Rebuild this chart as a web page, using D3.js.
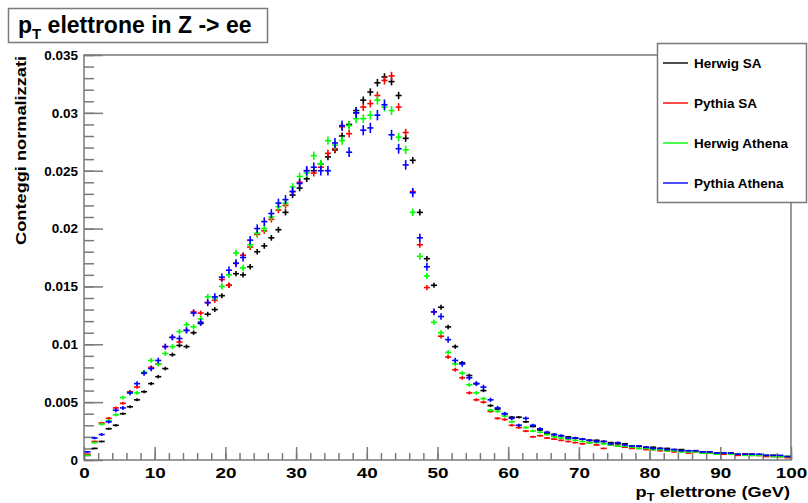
<!DOCTYPE html>
<html>
<head>
<meta charset="utf-8">
<script src="https://cdn.jsdelivr.net/npm/d3@7"></script>
<style>
  html, body { margin: 0; padding: 0; background: #fff; }
  svg { display: block; }
  text { font-family: "Liberation Sans", Arial, Helvetica, sans-serif; font-weight: bold; fill: #000; }
</style>
</head>
<body>
<svg id="chart" width="808" height="503"></svg>
<script>
// ---------------- DATA ----------------
const binCenters = d3.range(0, 100).map(i => i + 0.5);

const herwigSA = [
  0.0004, 0.0010, 0.0016, 0.0027, 0.0030, 0.0040, 0.0046, 0.0052, 0.0059, 0.0066,
  0.0072, 0.0079, 0.0091, 0.0099, 0.0098, 0.0110, 0.0118, 0.0126, 0.0130, 0.0142,
  0.0151, 0.0161, 0.0160, 0.0167, 0.0180, 0.0185, 0.0192, 0.0199, 0.0214, 0.0229,
  0.0235, 0.0243, 0.0250, 0.0256, 0.0262, 0.0268, 0.0280, 0.0290, 0.0302, 0.0311,
  0.0318, 0.0326, 0.0331, 0.0327, 0.0315, 0.0278, 0.0259, 0.0214, 0.0174, 0.0151,
  0.0132, 0.0115, 0.0098, 0.0084, 0.0073, 0.0066, 0.0060, 0.0047, 0.0044, 0.0040,
  0.0037, 0.0037, 0.0033, 0.0029, 0.0026, 0.0023, 0.0022, 0.0021, 0.0020, 0.0019,
  0.0018, 0.0017, 0.0017, 0.0016, 0.0015, 0.0014, 0.0014, 0.0012, 0.0012, 0.0011,
  0.0011, 0.0010, 0.0010, 0.0009, 0.0009, 0.0008, 0.0008, 0.0007, 0.0007, 0.0006,
  0.0006, 0.0006, 0.0005, 0.0005, 0.0005, 0.0004, 0.0004, 0.0004, 0.0003, 0.0003
];
const pythiaSA = [
  0.0005, 0.0016, 0.0032, 0.0036, 0.0045, 0.0049, 0.0059, 0.0063, 0.0075, 0.0080,
  0.0083, 0.0098, 0.0106, 0.0102, 0.0112, 0.0128, 0.0127, 0.0136, 0.0138, 0.0156,
  0.0151, 0.0170, 0.0177, 0.0184, 0.0195, 0.0198, 0.0208, 0.0216, 0.0220, 0.0232,
  0.0240, 0.0250, 0.0248, 0.0253, 0.0265, 0.0269, 0.0288, 0.0282, 0.0300, 0.0305,
  0.0308, 0.0315, 0.0328, 0.0332, 0.0305, 0.0283, 0.0232, 0.0186, 0.0149, 0.0128,
  0.0107, 0.0089, 0.0078, 0.0071, 0.0058, 0.0052, 0.0050, 0.0042, 0.0036, 0.0035,
  0.0030, 0.0028, 0.0025, 0.0020, 0.0021, 0.0019, 0.0018, 0.0017, 0.0016, 0.0015,
  0.0014, 0.0015, 0.0013, 0.0010, 0.0013, 0.0012, 0.0011, 0.0010, 0.0010, 0.0009,
  0.0009, 0.0008, 0.0008, 0.0007, 0.0008, 0.0006, 0.0007, 0.0006, 0.0006, 0.0005,
  0.0005, 0.0005, 0.0004, 0.0005, 0.0004, 0.0004, 0.0003, 0.0003, 0.0003, 0.0002
];
const herwigAthena = [
  0.0004, 0.0015, 0.0031, 0.0034, 0.0039, 0.0054, 0.0058, 0.0058, 0.0076, 0.0086,
  0.0083, 0.0092, 0.0098, 0.0111, 0.0117, 0.0115, 0.0122, 0.0141, 0.0140, 0.0150,
  0.0160, 0.0179, 0.0166, 0.0186, 0.0196, 0.0200, 0.0210, 0.0219, 0.0222, 0.0236,
  0.0245, 0.0248, 0.0263, 0.0256, 0.0276, 0.0272, 0.0276, 0.0289, 0.0295, 0.0295,
  0.0298, 0.0311, 0.0305, 0.0302, 0.0279, 0.0268, 0.0214, 0.0176, 0.0159, 0.0119,
  0.0110, 0.0093, 0.0083, 0.0075, 0.0065, 0.0058, 0.0053, 0.0043, 0.0042, 0.0038,
  0.0033, 0.0030, 0.0028, 0.0025, 0.0024, 0.0022, 0.0020, 0.0019, 0.0018, 0.0017,
  0.0016, 0.0015, 0.0015, 0.0014, 0.0013, 0.0012, 0.0012, 0.0011, 0.0010, 0.0010,
  0.0009, 0.0009, 0.0008, 0.0008, 0.0007, 0.0007, 0.0007, 0.0006, 0.0006, 0.0005,
  0.0006, 0.0005, 0.0005, 0.0004, 0.0004, 0.0004, 0.0004, 0.0003, 0.0003, 0.0003
];
const pythiaAthena = [
  0.0007, 0.0019, 0.0022, 0.0033, 0.0043, 0.0045, 0.0058, 0.0066, 0.0075, 0.0079,
  0.0086, 0.0098, 0.0106, 0.0105, 0.0112, 0.0127, 0.0119, 0.0136, 0.0141, 0.0158,
  0.0164, 0.0170, 0.0175, 0.0190, 0.0200, 0.0206, 0.0213, 0.0222, 0.0225, 0.0232,
  0.0239, 0.0250, 0.0253, 0.0250, 0.0250, 0.0274, 0.0289, 0.0266, 0.0300, 0.0285,
  0.0287, 0.0298, 0.0307, 0.0281, 0.0269, 0.0255, 0.0231, 0.0192, 0.0167, 0.0128,
  0.0124, 0.0104, 0.0086, 0.0083, 0.0071, 0.0066, 0.0063, 0.0052, 0.0045, 0.0040,
  0.0036, 0.0030, 0.0036, 0.0030, 0.0027, 0.0024, 0.0022, 0.0021, 0.0019, 0.0019,
  0.0018, 0.0017, 0.0016, 0.0016, 0.0014, 0.0015, 0.0013, 0.0012, 0.0012, 0.0011,
  0.0010, 0.0010, 0.0009, 0.0009, 0.0008, 0.0008, 0.0008, 0.0007, 0.0007, 0.0006,
  0.0006, 0.0006, 0.0005, 0.0005, 0.0005, 0.0005, 0.0004, 0.0004, 0.0004, 0.0003
];

const seriesNames = ["Herwig SA", "Pythia SA", "Herwig Athena", "Pythia Athena"];
const seriesColors = ["#000000", "#ff0000", "#00ff00", "#0000ff"];
const seriesErrScale = [0.0018, 0.0019, 0.0022, 0.0026]; // statistical error ~ k*sqrt(value)

const xTicks = [0, 10, 20, 30, 40, 50, 60, 70, 80, 90, 100];
const xTickLabels = ["0", "10", "20", "30", "40", "50", "60", "70", "80", "90", "100"];
const yTicks = [0, 0.005, 0.01, 0.015, 0.02, 0.025, 0.03, 0.035];
const yTickLabels = ["0", "0.005", "0.01", "0.015", "0.02", "0.025", "0.03", "0.035"];

const titleMain = "p";
const titleSub = "T";
const titleRest = " elettrone in Z -> ee";
const xTitleMain = "p";
const xTitleSub = "T";
const xTitleRest = " elettrone (GeV)";
const yTitle = "Conteggi normalizzati";

// ---------------- LAYOUT ----------------
const svg = d3.select("#chart");
const L = 84, R = 791, T = 55, B = 460;
const x = d3.scaleLinear().domain([0, 100]).range([L, R]);
const y = d3.scaleLinear().domain([0, 0.035]).range([B, T]);
const frameColor = "#7a7a7a";

svg.append("rect").attr("width", 808).attr("height", 503).attr("fill", "#fff");

// frame
svg.append("rect").attr("x", L).attr("y", T).attr("width", R - L).attr("height", B - T)
  .attr("fill", "none").attr("stroke", frameColor).attr("stroke-width", 1.5);

// Y axis minor ticks
const yMinor = d3.axisLeft(y).tickValues(d3.range(0, 0.0355, 0.001)).tickSize(-10).tickFormat("");
const gyMinor = svg.append("g").attr("transform", `translate(${L},0)`).call(yMinor);
// Y axis major ticks + labels
const yMajor = d3.axisLeft(y).tickValues(yTicks).tickSize(-19).tickPadding(6)
  .tickFormat((d, i) => yTickLabels[i]);
const gy = svg.append("g").attr("transform", `translate(${L},0)`).call(yMajor);

// X axis minor ticks
const xMinor = d3.axisBottom(x).tickValues(d3.range(0, 101, 2)).tickSize(-7).tickFormat("");
const gxMinor = svg.append("g").attr("transform", `translate(0,${B})`).call(xMinor);
const xMajor = d3.axisBottom(x).tickValues(xTicks).tickSize(-13).tickPadding(5)
  .tickFormat((d, i) => xTickLabels[i]);
const gx = svg.append("g").attr("transform", `translate(0,${B})`).call(xMajor);

[gyMinor, gy, gxMinor, gx].forEach(g => {
  g.select(".domain").remove();
  g.selectAll(".tick line").attr("stroke", frameColor).attr("stroke-width", 1.5);
});
gy.selectAll(".tick text").attr("font-size", 13.5).attr("font-family", "Liberation Sans, Arial, sans-serif")
  .attr("font-weight", "bold").attr("fill", "#000");
gx.selectAll(".tick text").attr("font-size", 14).attr("font-family", "Liberation Sans, Arial, sans-serif")
  .attr("font-weight", "bold").attr("fill", "#000")
  .attr("transform", "scale(1.35,1)")
  .attr("dy", "0.9em");

// ---------------- DATA MARKS ----------------
const allSeries = [herwigSA, pythiaSA, herwigAthena, pythiaAthena];
const bw = x(1) - x(0);
allSeries.forEach((vals, si) => {
  const g = svg.append("g").attr("stroke", seriesColors[si]).attr("stroke-width", 1.6);
  vals.forEach((v, i) => {
    const cx = x(binCenters[i]);
    const cy = y(v);
    const e = seriesErrScale[si] * Math.sqrt(v);
    g.append("line").attr("x1", cx - bw / 2 + 0.5).attr("x2", cx + bw / 2 - 0.5).attr("y1", cy).attr("y2", cy);
    g.append("line").attr("x1", cx).attr("x2", cx).attr("y1", y(v + e)).attr("y2", y(Math.max(0, v - e)));
  });
});

// ---------------- TITLES ----------------
// Title box
svg.append("rect").attr("x", 8.5).attr("y", 8.5).attr("width", 259).attr("height", 34)
  .attr("fill", "#fff").attr("stroke", frameColor).attr("stroke-width", 1.5);
const tt = svg.append("text").attr("x", 18).attr("y", 33).attr("font-size", 23);
tt.append("tspan").text(titleMain);
tt.append("tspan").attr("font-size", 15).attr("dy", 6).text(titleSub);
tt.append("tspan").attr("dy", -6).text(titleRest);

// X title (right aligned at axis end)
const xt = svg.append("g").attr("transform", `translate(790,497) scale(1.3,1)`);
const xtt = xt.append("text").attr("text-anchor", "end").attr("font-size", 14);
xtt.append("tspan").text(xTitleMain);
xtt.append("tspan").attr("font-size", 10).attr("dy", 4).text(xTitleSub);
xtt.append("tspan").attr("dy", -4).text(xTitleRest);

// Y title (right aligned at axis end)
svg.append("g").attr("transform", `translate(26,56) rotate(-90) scale(1.3,1)`)
  .append("text").attr("text-anchor", "end").attr("font-size", 14).text(yTitle);

// ---------------- LEGEND ----------------
const lg = svg.append("g");
lg.append("rect").attr("x", 657.5).attr("y", 43.5).attr("width", 149).attr("height", 159)
  .attr("fill", "#fff").attr("stroke", frameColor).attr("stroke-width", 1.5);
const legY = [63, 103, 143, 183];
seriesNames.forEach((name, i) => {
  lg.append("line").attr("x1", 663).attr("x2", 688).attr("y1", legY[i]).attr("y2", legY[i])
    .attr("stroke", seriesColors[i]).attr("stroke-width", 1.4);
  lg.append("text").attr("x", 694).attr("y", legY[i] + 4.5).attr("font-size", 13.5).text(name);
});
</script>
</body>
</html>
